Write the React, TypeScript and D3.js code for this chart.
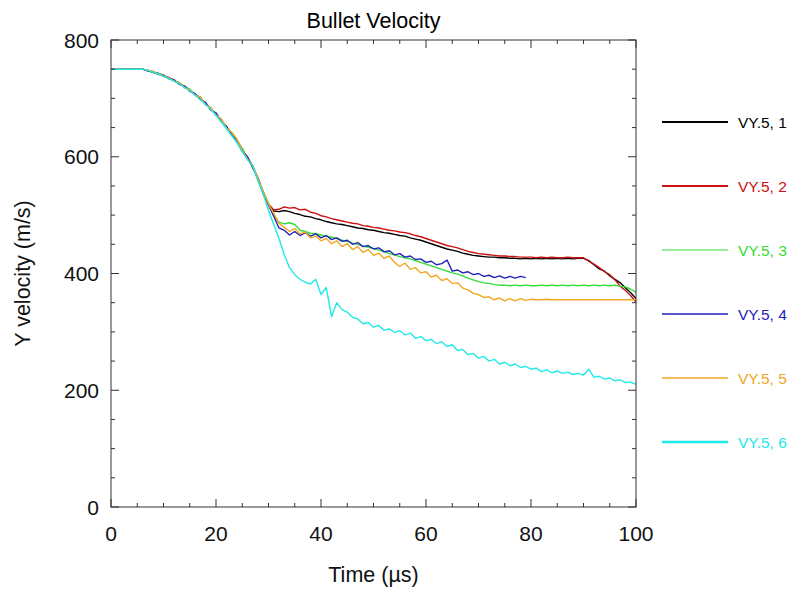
import React from "react";
import * as d3 from "d3";

const title = "Bullet Velocity";
const xLabel = "Time (µs)";
const yLabel = "Y velocity (m/s)";
const xTicks = [0, 20, 40, 60, 80, 100];
const yTicks = [0, 200, 400, 600, 800];

// time grid in µs (1 µs steps)
const timeUs = Array.from({ length: 101 }, (_, i) => i);

const vy1 = [750, 750, 750, 750, 750, 750, 750, 748, 745, 743, 738, 736, 730, 727, 719, 715, 706, 701, 690, 683, 672, 663, 650, 640, 626, 613, 597, 584, 561, 539, 518, 507,
  506, 508, 506, 503, 501, 498, 497, 494, 492, 489, 487, 485, 484, 482, 480, 478, 477, 475, 474, 472, 470, 469, 467, 465, 464, 461, 459, 457, 454, 451, 448, 445, 442, 440, 438, 435, 433, 431, 430, 429, 428, 428, 427, 427, 426, 426, 425, 426, 425, 426, 425, 426, 425, 426, 425, 426, 425, 426, 426, 422, 415, 408, 404, 396, 390, 384, 375, 367, 357];

const vy2 = [750, 750, 750, 750, 750, 750, 750, 747, 746, 742, 740, 734, 732, 725, 721, 713, 708, 699, 692, 681, 674, 661, 652, 638, 628, 611, 599, 582, 563, 537, 519, 509,
  510, 514, 512, 513, 509, 510, 505, 503, 499, 497, 494, 492, 490, 488, 486, 485, 482, 481, 479, 478, 476, 474, 473, 471, 470, 468, 465, 463, 460, 457, 454, 451, 448, 446, 444, 441, 438, 436, 434, 433, 432, 431, 430, 430, 429, 429, 428, 428, 428, 427, 428, 427, 428, 427, 427, 428, 427, 427, 427, 421, 416, 410, 403, 398, 389, 378, 371, 362, 351];

const vy3 = [750, 750, 750, 750, 750, 750, 750, 748, 744, 743, 739, 735, 730, 727, 720, 716, 706, 702, 690, 684, 672, 664, 650, 641, 626, 614, 597, 585, 562, 541, 520, 500,
  488, 485, 487, 484, 474, 472, 469, 468, 466, 464, 462, 460, 457, 455, 452, 450, 447, 445, 443, 440, 438, 434, 432, 429, 427, 425, 422, 419, 416, 413, 410, 407, 404, 401, 399, 396, 392, 389, 386, 384, 383, 381, 380, 380, 379, 380, 379, 380, 379, 379, 380, 379, 380, 379, 380, 379, 380, 379, 380, 379, 380, 379, 380, 379, 380, 378, 377, 373, 368];

const vy4 = [750, 750, 750, 750, 750, 750, 750, 747, 745, 741, 739, 734, 731, 724, 721, 712, 708, 698, 693, 680, 675, 660, 652, 637, 629, 610, 600, 581, 564, 536, 517, 498,
  478, 474, 466, 472, 465, 470, 464, 468, 461, 465, 458, 461, 455, 457, 450, 453, 446, 448, 442, 444, 437, 439, 432, 434, 428, 430, 424, 425, 419, 421, 415, 417, 423, 404, 406, 401, 403, 398, 400, 395, 397, 393, 396, 392, 395, 392, 395, 393];

const vy5 = [750, 750, 750, 750, 750, 750, 750, 748, 746, 742, 738, 735, 729, 727, 718, 715, 705, 703, 689, 684, 671, 665, 649, 642, 630, 611, 596, 584, 563, 540, 519, 503,
  486, 479, 472, 477, 468, 471, 461, 464, 456, 460, 451, 456, 446, 451, 441, 446, 436, 441, 431, 435, 426, 430, 419, 412, 418, 407, 410, 401, 403, 394, 397, 388, 391, 383, 384, 375, 372, 366, 364, 359, 360, 355, 358, 353, 357, 353, 357, 354, 356, 355, 355, 356, 355, 355, 355, 355, 355, 355, 355, 355, 355, 355, 355, 355, 355, 355, 355, 355, 355];

const vy6 = [750, 750, 750, 750, 750, 750, 750, 748, 745, 742, 738, 734, 730, 725, 719, 713, 706, 698, 690, 681, 671, 660, 648, 636, 624, 608, 595, 584, 558, 536, 508, 484,
  460, 432, 410, 398, 390, 385, 382, 390, 364, 376, 326, 350, 338, 334, 325, 322, 314, 316, 308, 311, 303, 305, 299, 302, 295, 298, 289, 292, 285, 287, 280, 283, 275, 278, 268, 270, 261, 263, 255, 258, 250, 253, 245, 248, 242, 245, 239, 241, 236, 238, 232, 235, 230, 233, 229, 231, 227, 229, 226, 236, 222, 224, 219, 221, 216, 218, 213, 214, 210];

const seriesNames = ["VY.5, 1", "VY.5, 2", "VY.5, 3", "VY.5, 4", "VY.5, 5", "VY.5, 6"];
const seriesValues = [vy1, vy2, vy3, vy4, vy5, vy6];
const seriesColors = ["#000000", "#cc1111", "#33dd33", "#2222bb", "#f2a622", "#22e8e8"];
const legendWidths = [2, 2, 1.2, 1.5, 1.5, 2.5];

const W = 789;
const H = 589;
const left = 111;
const right = 636;
const top = 40;
const bottom = 507;

export default function App() {
  const x = d3.scaleLinear().domain([0, 100]).range([left, right]);
  const y = d3.scaleLinear().domain([0, 800]).range([bottom, top]);
  const line = d3
    .line<[number, number]>()
    .x((d) => x(d[0]))
    .y((d) => y(d[1]));

  const xMinor = d3.range(0, 101, 5);
  const yMinor = d3.range(0, 801, 50);
  const axisColor = "#333";
  const font = "'Liberation Sans', Arial, sans-serif";

  return (
    <svg
      width={W}
      height={H}
      style={{ position: "absolute", left: 0, top: 0, background: "#fff" }}
      fontFamily={font}
    >
      <rect x={0} y={0} width={W} height={H} fill="#fff" />
      <text x={(left + right) / 2} y={28} textAnchor="middle" fontSize={21.5} fill="#000">
        {title}
      </text>

      {/* series */}
      <g fill="none" strokeWidth={1.4} strokeLinejoin="round">
        {seriesValues.map((vals, i) => (
          <path
            key={i}
            d={line(vals.map((v, j) => [timeUs[j], v] as [number, number])) || ""}
            stroke={seriesColors[i]}
          />
        ))}
      </g>

      {/* frame */}
      <rect x={left} y={top} width={right - left} height={bottom - top} fill="none" stroke={axisColor} strokeWidth={1} />

      {/* ticks */}
      {xMinor.map((t) => {
        const major = t % 20 === 0;
        const len = major ? 8 : 4;
        return (
          <g key={"xt" + t} stroke={axisColor} strokeWidth={1}>
            <line x1={x(t)} x2={x(t)} y1={bottom} y2={bottom - len} />
            <line x1={x(t)} x2={x(t)} y1={top} y2={top + len} />
          </g>
        );
      })}
      {yMinor.map((v) => {
        const major = v % 200 === 0;
        const len = major ? 8 : 4;
        return (
          <g key={"yt" + v} stroke={axisColor} strokeWidth={1}>
            <line x1={left} x2={left + len} y1={y(v)} y2={y(v)} />
            <line x1={right} x2={right - len} y1={y(v)} y2={y(v)} />
          </g>
        );
      })}
      {xTicks.map((t) => (
        <text key={"xl" + t} x={x(t)} y={541} textAnchor="middle" fontSize={21} fill="#111">
          {t}
        </text>
      ))}
      {yTicks.map((v) => (
        <text key={"yl" + v} x={99} y={y(v) + 7.5} textAnchor="end" fontSize={21} fill="#111">
          {v}
        </text>
      ))}
      <text x={(left + right) / 2} y={582} textAnchor="middle" fontSize={21.5} fill="#111">
        {xLabel}
      </text>
      <text
        transform={`translate(30, ${(top + bottom) / 2}) rotate(-90)`}
        textAnchor="middle"
        fontSize={21.5}
        fill="#111"
      >
        {yLabel}
      </text>

      {/* legend */}
      {seriesNames.map((name, i) => {
        const ly = 122 + i * 64;
        return (
          <g key={"lg" + i}>
            <line x1={662} x2={728} y1={ly} y2={ly} stroke={seriesColors[i]} strokeWidth={legendWidths[i]} />
            <text x={738} y={ly + 5.5} fontSize={15.5} fill={seriesColors[i]}>
              {name}
            </text>
          </g>
        );
      })}
    </svg>
  );
}
